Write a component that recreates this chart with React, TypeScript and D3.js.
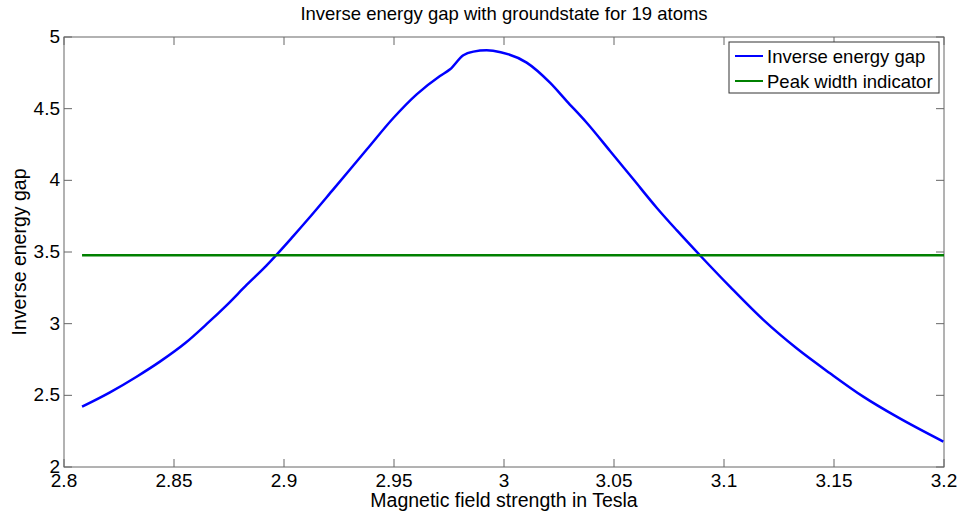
import React from "react";
import * as d3 from "d3";

// Magnetic field values (Tesla) and the inverse energy gap at each
const fieldT = [
  2.8082, 2.8209, 2.833, 2.8436, 2.855, 2.8649, 2.874, 2.883, 2.892, 2.904,
  2.911, 2.9224, 2.9376, 2.9497, 2.9603, 2.9709, 2.9755, 2.9815, 2.9861,
  2.9921, 2.9985, 3.0103, 3.0209, 3.0285, 3.0376, 3.0482, 3.0588,
  3.0694, 3.0785, 3.0898, 3.1027, 3.1179, 3.133, 3.1482, 3.1633, 3.1785, 3.1997,
];
const inverseGap = [
  2.421, 2.521, 2.63, 2.735, 2.863, 2.998, 3.13, 3.27, 3.405, 3.607,
  3.73, 3.937, 4.215, 4.435, 4.6, 4.728, 4.775, 4.873, 4.898,
  4.907, 4.894, 4.821, 4.681, 4.553, 4.402, 4.205, 4.007,
  3.809, 3.652, 3.465, 3.258, 3.026, 2.828, 2.654, 2.491, 2.351, 2.177,
];

// Horizontal peak-width indicator level and extent
const peakWidthLevel = 3.477;
const peakWidthRange = [2.8082, 3.2];

const xTicks = [2.8, 2.85, 2.9, 2.95, 3, 3.05, 3.1, 3.15, 3.2];
const yTicks = [2, 2.5, 3, 3.5, 4, 4.5, 5];

const seriesNames = ["Inverse energy gap", "Peak width indicator"];
const seriesColors = ["#0000ff", "#008000"];

const W = 962;
const H = 517;
const M = { left: 64, right: 18, top: 37, bottom: 50 };
const FONT = "'Liberation Sans', Arial, Helvetica, sans-serif";

export default function App() {
  const x = d3.scaleLinear().domain([2.8, 3.2]).range([M.left, W - M.right]);
  const y = d3.scaleLinear().domain([2, 5]).range([H - M.bottom, M.top]);
  const [x0, x1] = x.range();
  const [y0, y1] = y.range();

  const pts: [number, number][] = fieldT.map((f, i) => [f, inverseGap[i]]);
  const line = d3
    .line<[number, number]>()
    .x((d) => x(d[0]))
    .y((d) => y(d[1]))
    .curve(d3.curveMonotoneX);

  const fmt = (v: number) => String(+v.toFixed(2));
  const axisColor = "#666";
  const tickLen = 8;

  const legX = 729;
  const legY = 42;
  const legW = 210;
  const legH = 51;

  return (
    <svg
      width={W}
      height={H}
      style={{ position: "absolute", left: 0, top: 0, background: "#fff" }}
      fontFamily={FONT}
    >
      <rect x={0} y={0} width={W} height={H} fill="#fff" />
      {/* plot frame */}
      <rect x={x0} y={y1} width={x1 - x0} height={y0 - y1} fill="#fff" stroke={axisColor} strokeWidth={1} />

      {/* x ticks, bottom and top */}
      {xTicks.map((t) => (
        <g key={"xt" + t}>
          <line x1={x(t)} x2={x(t)} y1={y0} y2={y0 - tickLen} stroke={axisColor} />
          <line x1={x(t)} x2={x(t)} y1={y1} y2={y1 + tickLen} stroke={axisColor} />
          <text x={x(t)} y={y0 + 20} fontSize={19} textAnchor="middle" fill="#000">
            {fmt(t)}
          </text>
        </g>
      ))}
      {/* y ticks, left and right */}
      {yTicks.map((t) => (
        <g key={"yt" + t}>
          <line x1={x0} x2={x0 + tickLen} y1={y(t)} y2={y(t)} stroke={axisColor} />
          <line x1={x1} x2={x1 - tickLen} y1={y(t)} y2={y(t)} stroke={axisColor} />
          <text x={x0 - 4} y={y(t) + 6} fontSize={19} textAnchor="end" fill="#000">
            {fmt(t)}
          </text>
        </g>
      ))}

      {/* data */}
      <path d={line(pts) || ""} fill="none" stroke={seriesColors[0]} strokeWidth={2.5} />
      <line
        x1={x(peakWidthRange[0])}
        x2={x(peakWidthRange[1])}
        y1={y(peakWidthLevel)}
        y2={y(peakWidthLevel)}
        stroke={seriesColors[1]}
        strokeWidth={2.5}
      />

      {/* titles */}
      <text x={(x0 + x1) / 2} y={20} fontSize={18.5} textAnchor="middle" fill="#000">
        Inverse energy gap with groundstate for 19 atoms
      </text>
      <text x={(x0 + x1) / 2} y={507} fontSize={19.5} textAnchor="middle" fill="#000">
        Magnetic field strength in Tesla
      </text>
      <text
        transform={`translate(26,${(y0 + y1) / 2}) rotate(-90)`}
        fontSize={19.5}
        textAnchor="middle"
        fill="#000"
      >
        Inverse energy gap
      </text>

      {/* legend */}
      <rect x={legX} y={legY} width={legW} height={legH} fill="#fff" stroke="#333" strokeWidth={1} />
      {seriesNames.map((n, i) => (
        <g key={n}>
          <line
            x1={legX + 6}
            x2={legX + 34}
            y1={legY + 14 + i * 25}
            y2={legY + 14 + i * 25}
            stroke={seriesColors[i]}
            strokeWidth={2}
          />
          <text x={legX + 38} y={legY + 20.5 + i * 25} fontSize={18.5} fill="#000">
            {n}
          </text>
        </g>
      ))}
    </svg>
  );
}
